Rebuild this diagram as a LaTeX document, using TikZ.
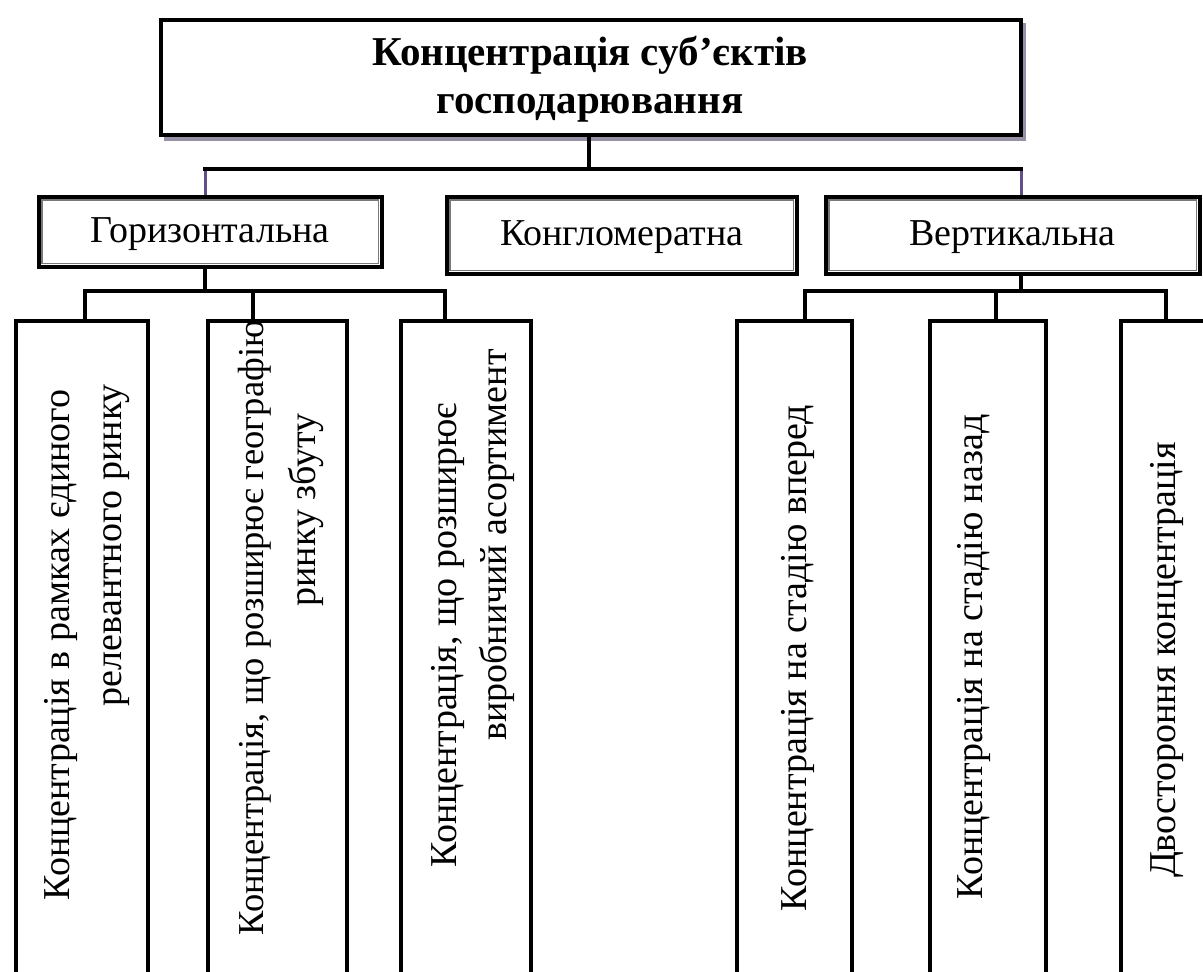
\documentclass[tikz,border=0pt]{standalone}
\usepackage{fontspec}
\setmainfont{Liberation Serif}
\definecolor{shadowc}{RGB}{152,144,164}
\definecolor{tickc}{RGB}{98,78,138}
\definecolor{innerc}{RGB}{120,120,120}
\begin{document}
\begin{tikzpicture}[x=1pt,y=-1pt,
  frame/.style={draw=black, line width=4pt, fill=white, inner sep=0pt, anchor=north west},
  dframe/.style={draw=black, line width=3.5pt, fill=white, inner sep=0pt, anchor=north west,
    font=\fontsize{38}{44}\selectfont, text height=27pt, text depth=6pt},
  innerline/.style={draw=innerc, line width=1.3pt},
  conn/.style={draw=black, line width=4pt},
  tick/.style={draw=tickc, line width=3pt},
  titletext/.style={anchor=base, inner sep=0pt, font=\bfseries\fontsize{41}{48}\selectfont},
  vtext/.style={rotate=90, anchor=base, inner sep=0pt, font=\fontsize{38}{44}\selectfont}]

\useasboundingbox (0,0) rectangle (1203,972);
\clip (0,0) rectangle (1203,972);
\fill[white] (0,0) rectangle (1203,972);

% headline box with its drop shadow
\fill[shadowc] (164,23) rectangle (1026,141);
\node[frame, minimum width=860pt, minimum height=115pt] (top) at (159,18) {};
\node[titletext] (title1) at (590,65) {Концентрація суб’єктів};
\node[titletext] (title2) at (590,113) {господарювання};

% three kinds of concentration
\node[dframe, minimum width=343pt, minimum height=70pt] (hor) at (37,195) {Горизонтальна};
\node[dframe, minimum width=350pt, minimum height=77pt] (con) at (445,195) {Конгломератна};
\node[dframe, minimum width=374pt, minimum height=77pt] (ver) at (824,195) {Вертикальна};
\foreach \n in {hor,con,ver}
  \draw[innerline] ([xshift=5pt,yshift=-5pt]\n.north west) rectangle ([xshift=-5pt,yshift=5pt]\n.south east);

% subtypes (open boxes running past the lower edge)
\node[frame, minimum width=132pt, minimum height=700pt] (b1) at (14,319) {};
\node[frame, minimum width=139pt, minimum height=700pt] (b2) at (206,319) {};
\node[frame, minimum width=130pt, minimum height=700pt] (b3) at (399,319) {};
\node[frame, minimum width=115pt, minimum height=700pt] (b4) at (735,319) {};
\node[frame, minimum width=116pt, minimum height=700pt] (b5) at (928,319) {};
\node[frame, minimum width=140pt, minimum height=700pt] (b6) at (1119,319) {};

\node[vtext] (b1a) at (69,645) {Концентрація в рамках єдиного};
\node[vtext] (b1b) at (121,545) {релевантного ринку};
\node[vtext, font=\fontsize{36.5}{44}\selectfont] (b2a) at (263,628) {Концентрація, що розширює географію};
\node[vtext] (b2b) at (315,510) {ринку збуту};
\node[vtext] (b3a) at (456,635) {Концентрація, що розширює};
\node[vtext] (b3b) at (506,545) {виробничий асортимент};
\node[vtext] (b4a) at (806,658) {Концентрація на стадію вперед};
\node[vtext] (b5a) at (982,657) {Концентрація на стадію назад};
\node[vtext] (b6a) at (1175,660) {Двостороння концентрація};

% upper bus
\coordinate (busM) at (589,169);
\coordinate (busL) at (205,169);
\coordinate (busR) at (1021,169);
\draw[conn] (busM |- top.south) -- (busM);
\draw[conn, line cap=rect] (busL) -- (busR);
\draw[tick] ([yshift=-2pt]busL) -- (busL |- hor.north);
\draw[tick] ([yshift=-2pt]busR) -- (busR |- ver.north);

% lower bus, horizontal branch
\coordinate (hb) at (205,291);
\coordinate (h1) at (85,291);
\coordinate (h2) at (253,291);
\coordinate (h3) at (445,291);
\draw[conn] (hb |- hor.south) -- (hb);
\draw[conn, line join=miter] (h1 |- b1.north) -- (h1) -- (h3) -- (h3 |- b3.north);
\draw[conn] (h2) -- (h2 |- b2.north);

% lower bus, vertical branch
\coordinate (vb) at (1021,291);
\coordinate (v1) at (805,291);
\coordinate (v2) at (996,291);
\coordinate (v3) at (1166,291);
\draw[conn] (vb |- ver.south) -- (vb);
\draw[conn, line join=miter] (v1 |- b4.north) -- (v1) -- (v3) -- (v3 |- b6.north);
\draw[conn] (v2) -- (v2 |- b5.north);
\end{tikzpicture}
\end{document}
